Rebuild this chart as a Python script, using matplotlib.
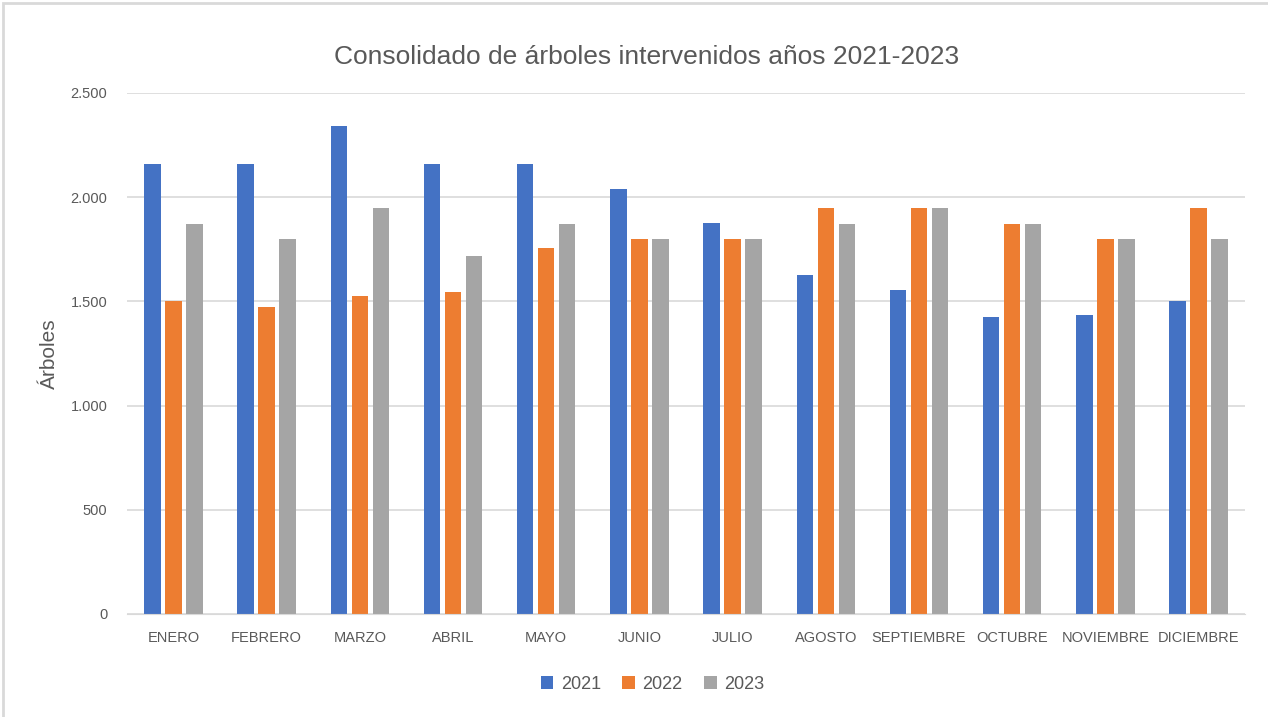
import numpy as np
import matplotlib.pyplot as plt
from matplotlib.patches import Rectangle

months = ['ENERO', 'FEBRERO', 'MARZO', 'ABRIL', 'MAYO', 'JUNIO', 'JULIO',
          'AGOSTO', 'SEPTIEMBRE', 'OCTUBRE', 'NOVIEMBRE', 'DICIEMBRE']
v2021 = [2160, 2160, 2340, 2160, 2160, 2040, 1875, 1627, 1555, 1426, 1436, 1500]
v2022 = [1500, 1475, 1527, 1545, 1756, 1800, 1800, 1950, 1950, 1872, 1800, 1950]
v2023 = [1872, 1800, 1950, 1720, 1872, 1800, 1800, 1872, 1950, 1872, 1800, 1800]
years = ['2021', '2022', '2023']
colors = ['#4472C4', '#ED7D31', '#A5A5A5']

plt.rcParams['font.family'] = ['Liberation Sans', 'DejaVu Sans']

fig = plt.figure(figsize=(12.68, 7.17), dpi=100)
ax = fig.add_axes([0.1, 0.1437, 0.882, 0.7266])

x = np.arange(len(months))
w = 0.175
off = 0.225
for i, (vals, c, lab) in enumerate(zip([v2021, v2022, v2023], colors, years)):
    ax.bar(x + (i - 1) * off, vals, width=w, color=c, label=lab, zorder=3)

ax.set_xlim(-0.5, len(months) - 0.5)
ax.set_ylim(0, 2500)
ax.set_yticks(np.arange(0, 2501, 500))
ax.set_yticklabels(['0', '500', '1.000', '1.500', '2.000', '2.500'])
ax.set_xticks(x)
ax.set_xticklabels(months)
ax.tick_params(axis='both', length=0, labelsize=10.5, colors='#595959', pad=12)
ax.tick_params(axis='y', pad=14)
ax.grid(axis='y', color='#D9D9D9', linewidth=1.2, zorder=0)
for s in ['top', 'right', 'left']:
    ax.spines[s].set_visible(False)
ax.spines['bottom'].set_color('#D9D9D9')
ax.spines['bottom'].set_zorder(4)

ax.set_ylabel('Árboles', fontsize=15, color='#595959', labelpad=8)
fig.text(0.51, 0.92, 'Consolidado de árboles intervenidos años 2021-2023',
         ha='center', va='center', fontsize=19, color='#595959')

leg = ax.legend(loc='center', bbox_to_anchor=(0.47, -0.135), ncol=3, frameon=False,
                fontsize=13, handlelength=0.7, handleheight=0.7, handletextpad=0.4,
                columnspacing=1.2)
for t in leg.get_texts():
    t.set_color('#595959')

fig.patches.append(Rectangle((0.002, -0.01), 1.2, 1.006, transform=fig.transFigure,
                             fill=False, edgecolor='#D9D9D9', linewidth=2))

fig.savefig('out.png', dpi=100)
